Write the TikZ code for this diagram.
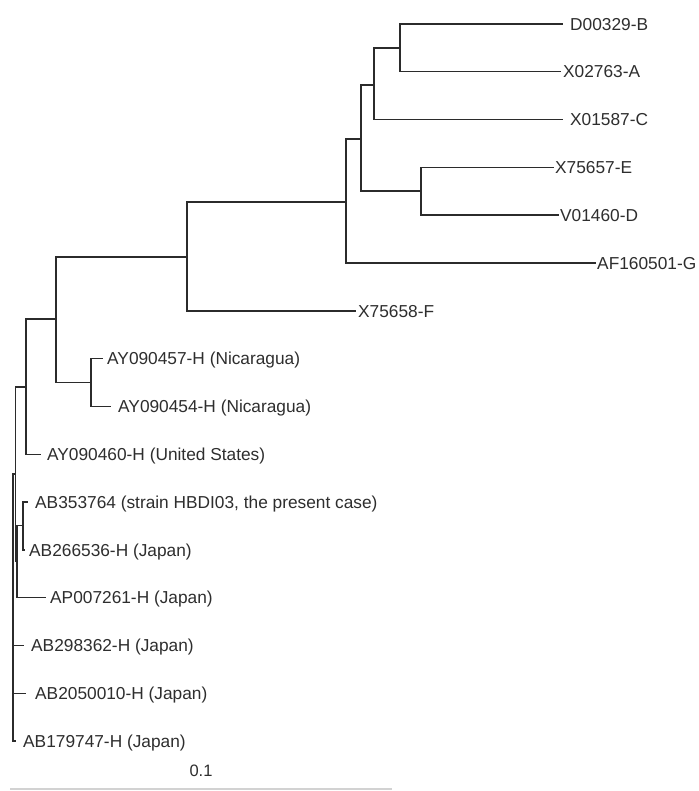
\documentclass[tikz,border=0pt]{standalone}
\usepackage{fontspec}
\setmainfont{Liberation Sans}
\definecolor{ink}{HTML}{2B2B2B}
\definecolor{txt}{HTML}{2E2E2E}
\begin{document}
\begin{tikzpicture}[x=1pt,y=-1pt,
  branch/.style={draw=ink,line width=1.4pt,line cap=rect},
  leaf/.style={anchor=base west,inner sep=0pt,text=txt,font=\fontsize{17.3}{20}\selectfont,yshift=-6.2pt},
  scalelab/.style={anchor=base,inner sep=0pt,text=txt,font=\fontsize{16.5}{19}\selectfont}]
\useasboundingbox[fill=white] (0,0) rectangle (698,791);
% internal nodes
\coordinate (root) at (13,474);
\coordinate (n1) at (15.5,474);
\coordinate (n2) at (17,561);
\coordinate (n3) at (23,525.5);
\coordinate (ayc) at (26,387);
\coordinate (n56) at (56,319);
\coordinate (nic) at (91,382.5);
\coordinate (n187) at (187,257);
\coordinate (n346) at (346,202);
\coordinate (n361) at (361,139);
\coordinate (n374) at (374,85);
\coordinate (n400) at (400,48);
\coordinate (n421) at (421,191);
% tip ends
\coordinate (eB) at (562,24);
\coordinate (eA) at (560,71.8);
\coordinate (eC) at (562,119.6);
\coordinate (eE) at (553,167.4);
\coordinate (eD) at (558,215.2);
\coordinate (eG) at (595,263);
\coordinate (eF) at (355,310.8);
\coordinate (e457) at (102,358.6);
\coordinate (e454) at (110,406.4);
\coordinate (e460) at (40,454.2);
\coordinate (e353) at (27,502);
\coordinate (e266) at (24,549.8);
\coordinate (eAP) at (45,597.6);
\coordinate (e298) at (23,645.4);
\coordinate (e205) at (25,693.2);
\coordinate (e179) at (15,741);
% labels
\node[leaf] (lB) at (570,24) {D00329-B};
\node[leaf] (lA) at (563,71.8) {X02763-A};
\node[leaf] (lC) at (570,119.6) {X01587-C};
\node[leaf] (lE) at (555,167.4) {X75657-E};
\node[leaf] (lD) at (560,215.2) {V01460-D};
\node[leaf] (lG) at (597,263) {AF160501-G};
\node[leaf] (lF) at (358,310.8) {X75658-F};
\node[leaf] (l457) at (107,358.6) {AY090457-H (Nicaragua)};
\node[leaf] (l454) at (118,406.4) {AY090454-H (Nicaragua)};
\node[leaf] (l460) at (47,454.2) {AY090460-H (United States)};
\node[leaf] (l353) at (35,502) {AB353764 (strain HBDI03, the present case)};
\node[leaf] (l266) at (29,549.8) {AB266536-H (Japan)};
\node[leaf] (lAP) at (50,597.6) {AP007261-H (Japan)};
\node[leaf] (l298) at (31,645.4) {AB298362-H (Japan)};
\node[leaf] (l205) at (35,693.2) {AB2050010-H (Japan)};
\node[leaf] (l179) at (23,741) {AB179747-H (Japan)};
% branches
\draw[branch] (root) |- (n1);
\draw[branch] (root) |- (e298);
\draw[branch] (root) |- (e205);
\draw[branch] (root) |- (e179);
\draw[branch] (n1) |- (ayc);
\draw[branch] (n1) |- (n2);
\draw[branch] (n2) |- (n3);
\draw[branch] (n2) |- (eAP);
\draw[branch] (n3) |- (e353);
\draw[branch] (n3) |- (e266);
\draw[branch] (ayc) |- (n56);
\draw[branch] (ayc) |- (e460);
\draw[branch] (n56) |- (n187);
\draw[branch] (n56) |- (nic);
\draw[branch] (nic) |- (e457);
\draw[branch] (nic) |- (e454);
\draw[branch] (n187) |- (n346);
\draw[branch] (n187) |- (eF);
\draw[branch] (n346) |- (n361);
\draw[branch] (n346) |- (eG);
\draw[branch] (n361) |- (n374);
\draw[branch] (n361) |- (n421);
\draw[branch] (n374) |- (n400);
\draw[branch] (n374) |- (eC);
\draw[branch] (n400) |- (eB);
\draw[branch] (n400) |- (eA);
\draw[branch] (n421) |- (eE);
\draw[branch] (n421) |- (eD);
% scale bar
\node[scalelab] (sl) at (201,776) {0.1};
\coordinate (sbl) at (10,789);
\coordinate (sbr) at (392,789);
\draw[draw=gray!35,line width=1.2pt] (sbl) -- (sbr);
\end{tikzpicture}
\end{document}
